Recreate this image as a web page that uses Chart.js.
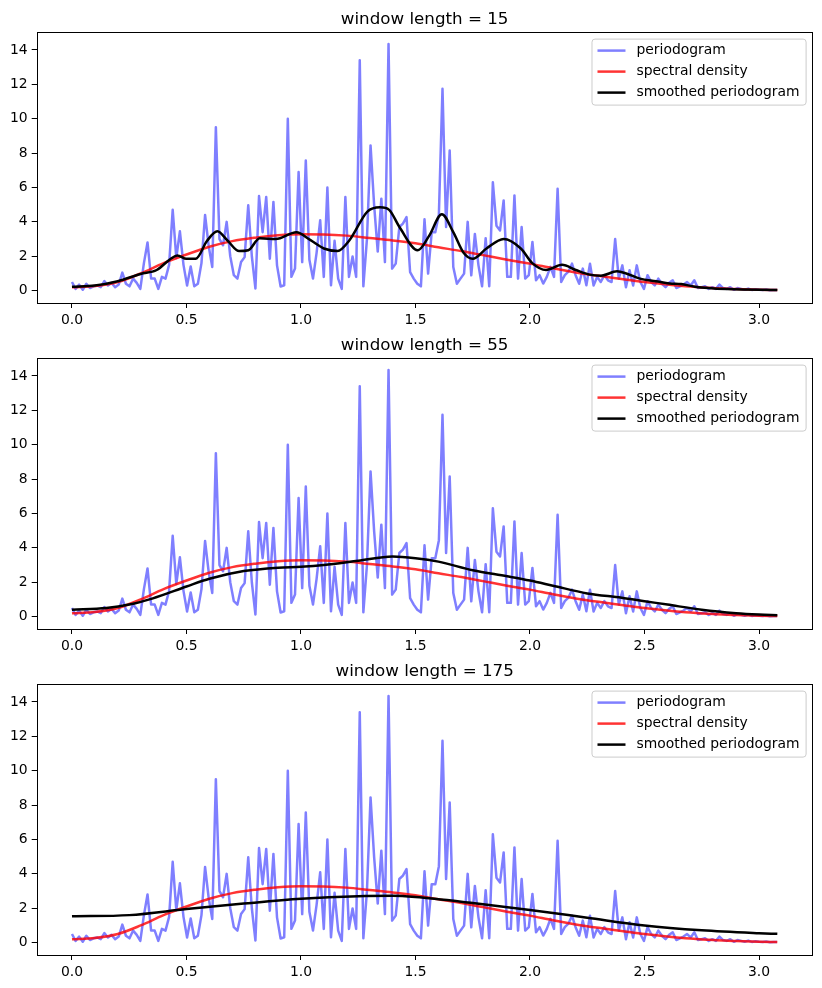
<!DOCTYPE html>
<html>
<head>
<meta charset="utf-8">
<script src="https://cdn.jsdelivr.net/npm/chart.js@4.4.1/dist/chart.umd.min.js"></script>
<style>
  html, body { margin: 0; padding: 0; background: #fff; }
  .panel { position: absolute; left: 0; width: 822px; height: 326px; }
</style>
</head>
<body>
<div class="panel" style="top:0px"><canvas id="c0" width="822" height="326"></canvas></div>
<div class="panel" style="top:326px"><canvas id="c1" width="822" height="326"></canvas></div>
<div class="panel" style="top:652px"><canvas id="c2" width="822" height="326"></canvas></div>
<script>
// window lengths, one panel each
const windowLengths = [15, 55, 175];

// raw periodogram at the Fourier frequencies 2*pi*j/400
const periodogram = [
  0.5, 0.1, 0.35, 0.05, 0.4, 0.15, 0.25, 0.3, 0.2, 0.55,
  0.3, 0.45, 0.2, 0.35, 1.05, 0.4, 0.25, 0.7, 0.45, 0.1,
  1.6, 2.8, 0.7, 0.7, 0.1, 0.8, 0.7, 1.5, 4.7, 1.9,
  3.45, 1.5, 0.3, 1.4, 0.25, 0.4, 1.6, 4.4, 2.6, 1.37,
  9.5, 3.0, 2.64, 4.0, 2.0, 0.9, 0.7, 1.66, 1.95, 4.96,
  2.0, 0.12, 5.5, 3.4, 5.45, 1.86, 5.16, 1.47, 0.24, 0.31,
  10.0, 0.8, 1.28, 6.9, 1.66, 7.57, 1.8, 0.7, 2.2, 4.09,
  0.8, 6.0, 0.31, 2.9, 0.7, 0.1, 5.44, 0.8, 1.98, 0.8,
  13.4, 0.25, 3.0, 8.45, 4.96, 2.27, 5.35, 1.66, 14.35, 1.28,
  1.57, 3.7, 3.9, 4.28, 1.07, 0.7, 0.4, 0.25, 4.15, 0.99,
  3.4, 3.4, 4.45, 11.74, 3.7, 8.15, 1.37, 0.4, 0.7, 0.99,
  4.0, 0.89, 3.3, 1.47, 0.25, 3.05, 0.25, 6.3, 3.78, 3.5,
  5.25, 0.8, 0.8, 5.54, 0.7, 3.7, 0.7, 0.9, 2.83, 0.6,
  0.9, 0.41, 0.8, 1.38, 0.8, 5.93, 0.5, 0.9, 1.1, 1.57,
  0.9, 0.4, 1.28, 0.31, 1.57, 0.3, 0.8, 0.5, 0.9, 0.6,
  0.5, 3.0, 0.7, 1.47, 0.2, 1.18, 0.3, 1.47, 0.5, 0.1,
  0.9, 0.5, 0.3, 0.7, 0.4, 0.2, 0.45, 0.6, 0.15, 0.25,
  0.35, 0.5, 0.3, 0.6, 0.15, 0.2, 0.25, 0.1, 0.2, 0.1,
  0.35, 0.15, 0.1, 0.2, 0.05, 0.15, 0.1, 0.05, 0.12, 0.04,
  0.08, 0.05, 0.03, 0.06, 0.02, 0.04, 0.03
];
const nObs = 400;

// true spectral density
const specX = [0, 0.1, 0.2, 0.3, 0.4, 0.5, 0.6, 0.7, 0.8, 0.9, 1.0, 1.1, 1.2, 1.3, 1.4, 1.5,
  1.6, 1.7, 1.8, 1.9, 2.0, 2.1, 2.2, 2.3, 2.4, 2.5, 2.6, 2.7, 2.8, 2.9, 3.0, 3.08];
const specY = [0.2, 0.27, 0.5, 1.0, 1.6, 2.1, 2.55, 2.88, 3.08, 3.22, 3.28, 3.27, 3.2, 3.06, 2.92, 2.75,
  2.52, 2.3, 2.05, 1.8, 1.57, 1.3, 1.06, 0.86, 0.68, 0.5, 0.36, 0.24, 0.15, 0.1, 0.05, 0.03];

// smoothed periodograms
const smooth15X = [0, 0.1, 0.2, 0.3, 0.37, 0.43, 0.46, 0.5, 0.54, 0.59, 0.635, 0.68, 0.73, 0.77, 0.82,
  0.89, 0.98, 1.04, 1.1, 1.16, 1.21, 1.29, 1.345, 1.385, 1.43, 1.51, 1.56, 1.615, 1.665, 1.71,
  1.75, 1.81, 1.885, 1.96, 2.01, 2.07, 2.14, 2.2, 2.26, 2.31, 2.38, 2.42, 2.48, 2.55, 2.61,
  2.66, 2.72, 2.86, 3.08];
const smooth15Y = [0.23, 0.3, 0.55, 0.97, 1.2, 1.84, 2.05, 1.85, 1.85, 2.9, 3.45, 2.9, 2.3, 2.35, 3.05,
  3.0, 3.4, 2.95, 2.45, 2.3, 2.9, 4.6, 4.85, 4.7, 3.7, 2.35, 3.2, 4.45, 3.4, 2.2,
  1.85, 2.45, 3.0, 2.45, 1.6, 1.2, 1.5, 1.2, 0.93, 0.87, 1.12, 1.0, 0.7, 0.55, 0.42,
  0.38, 0.23, 0.09, 0.04];

const smooth55X = [0, 0.15, 0.25, 0.35, 0.5, 0.6, 0.75, 0.9, 1.0, 1.1, 1.25, 1.4, 1.5, 1.6, 1.75,
  1.9, 2.0, 2.1, 2.25, 2.4, 2.5, 2.6, 2.75, 2.9, 3.0, 3.08];
const smooth55Y = [0.4, 0.5, 0.7, 1.05, 1.75, 2.2, 2.65, 2.85, 2.9, 3.0, 3.25, 3.5, 3.4, 3.2, 2.7,
  2.35, 2.1, 1.8, 1.35, 1.1, 0.9, 0.7, 0.4, 0.2, 0.12, 0.08];

const smooth175X = [0, 0.25, 0.5, 0.75, 1.0, 1.25, 1.4, 1.5, 1.75, 2.0, 2.25, 2.5, 2.75, 3.0, 3.08];
const smooth175Y = [1.53, 1.6, 1.95, 2.27, 2.55, 2.7, 2.72, 2.65, 2.3, 1.9, 1.45, 1.0, 0.72, 0.55, 0.51];

const smoothX = [smooth15X, smooth55X, smooth175X];
const smoothY = [smooth15Y, smooth55Y, smooth175Y];

// axis ticks
const xTicks = [0, 0.5, 1, 1.5, 2, 2.5, 3];
const yTicks = [0, 2, 4, 6, 8, 10, 12, 14];

const FONT = '"DejaVu Sans", sans-serif';
const blue = 'rgba(0, 0, 255, 0.5)';
const red = 'rgba(255, 0, 0, 0.8)';
const black = '#000000';

function toPoints(xs, ys) {
  return xs.map((x, i) => ({ x: x, y: ys[i] }));
}

// frame, title and legend like matplotlib
const panelDecor = {
  id: 'panelDecor',
  afterDraw(chart, args, opts) {
    const ctx = chart.ctx;
    const a = chart.chartArea;
    ctx.save();
    ctx.strokeStyle = '#000';
    ctx.lineWidth = 1;
    ctx.strokeRect(Math.round(a.left) + 0.5, Math.round(a.top) + 0.5,
      Math.round(a.right - a.left) - 1, Math.round(a.bottom - a.top));

    // title
    ctx.fillStyle = '#000';
    ctx.font = '16.7px ' + FONT;
    ctx.textAlign = 'center';
    ctx.textBaseline = 'alphabetic';
    ctx.fillText(opts.title, (a.left + a.right) / 2, a.top - 8);

    // legend
    const entries = [
      ['periodogram', blue],
      ['spectral density', red],
      ['smoothed periodogram', black]
    ];
    ctx.font = '13.9px ' + FONT;
    let tw = 0;
    entries.forEach(e => { tw = Math.max(tw, ctx.measureText(e[0]).width); });
    const w = 6 + 28 + 11 + tw + 6;
    const h = 66;
    const bx = a.right - 7 - w;
    const by = a.top + 7;
    ctx.beginPath();
    ctx.roundRect(bx + 0.5, by + 0.5, w, h, 3);
    ctx.fillStyle = 'rgba(255,255,255,0.8)';
    ctx.fill();
    ctx.strokeStyle = '#cccccc';
    ctx.stroke();
    ctx.textAlign = 'left';
    ctx.textBaseline = 'middle';
    entries.forEach((e, i) => {
      const yy = by + 12 + i * 21;
      ctx.beginPath();
      ctx.moveTo(bx + 6, yy);
      ctx.lineTo(bx + 34, yy);
      ctx.strokeStyle = e[1];
      ctx.lineWidth = 2.5;
      ctx.stroke();
      ctx.fillStyle = '#000';
      ctx.fillText(e[0], bx + 45, yy);
    });
    ctx.restore();
  }
};

windowLengths.forEach((wl, k) => {
  const freqs = periodogram.map((v, j) => 2 * Math.PI * j / nObs);
  new Chart(document.getElementById('c' + k), {
    type: 'line',
    data: {
      datasets: [
        {
          label: 'smoothed periodogram',
          data: toPoints(smoothX[k], smoothY[k]),
          borderColor: black,
          borderWidth: 2.5,
          cubicInterpolationMode: 'monotone',
          order: 0
        },
        {
          label: 'spectral density',
          data: toPoints(specX, specY),
          borderColor: red,
          borderWidth: 2.5,
          cubicInterpolationMode: 'monotone',
          order: 1
        },
        {
          label: 'periodogram',
          data: toPoints(freqs, periodogram),
          borderColor: blue,
          borderWidth: 2.5,
          tension: 0,
          order: 2
        }
      ]
    },
    options: {
      responsive: false,
      animation: false,
      devicePixelRatio: 1,
      elements: { point: { radius: 0 }, line: { borderJoinStyle: 'round', borderCapStyle: 'butt' } },
      layout: { padding: { top: 31.6, right: 9.4, left: 0, bottom: 0 } },
      plugins: {
        legend: { display: false },
        tooltip: { enabled: false },
        panelDecor: { title: 'window length = ' + wl }
      },
      scales: {
        x: {
          type: 'linear',
          min: -0.154,
          max: 3.234,
          afterFit: s => { s.height = 23; },
          afterBuildTicks: s => { s.ticks = xTicks.map(v => ({ value: v })); },
          grid: { drawOnChartArea: false, drawTicks: true, tickLength: 5, color: '#000' },
          border: { display: false },
          ticks: {
            padding: 4,
            color: '#000',
            font: { family: FONT, size: 13.9 },
            maxRotation: 0,
            callback: v => v.toFixed(1)
          }
        },
        y: {
          min: -0.72,
          max: 15.07,
          afterFit: s => { s.width = 36.7; },
          afterBuildTicks: s => { s.ticks = yTicks.map(v => ({ value: v })); },
          grid: { drawOnChartArea: false, drawTicks: true, tickLength: 5, color: '#000' },
          border: { display: false },
          ticks: {
            padding: 4,
            color: '#000',
            font: { family: FONT, size: 13.9 },
            callback: v => String(v)
          }
        }
      }
    },
    plugins: [panelDecor]
  });
});
</script>
</body>
</html>
